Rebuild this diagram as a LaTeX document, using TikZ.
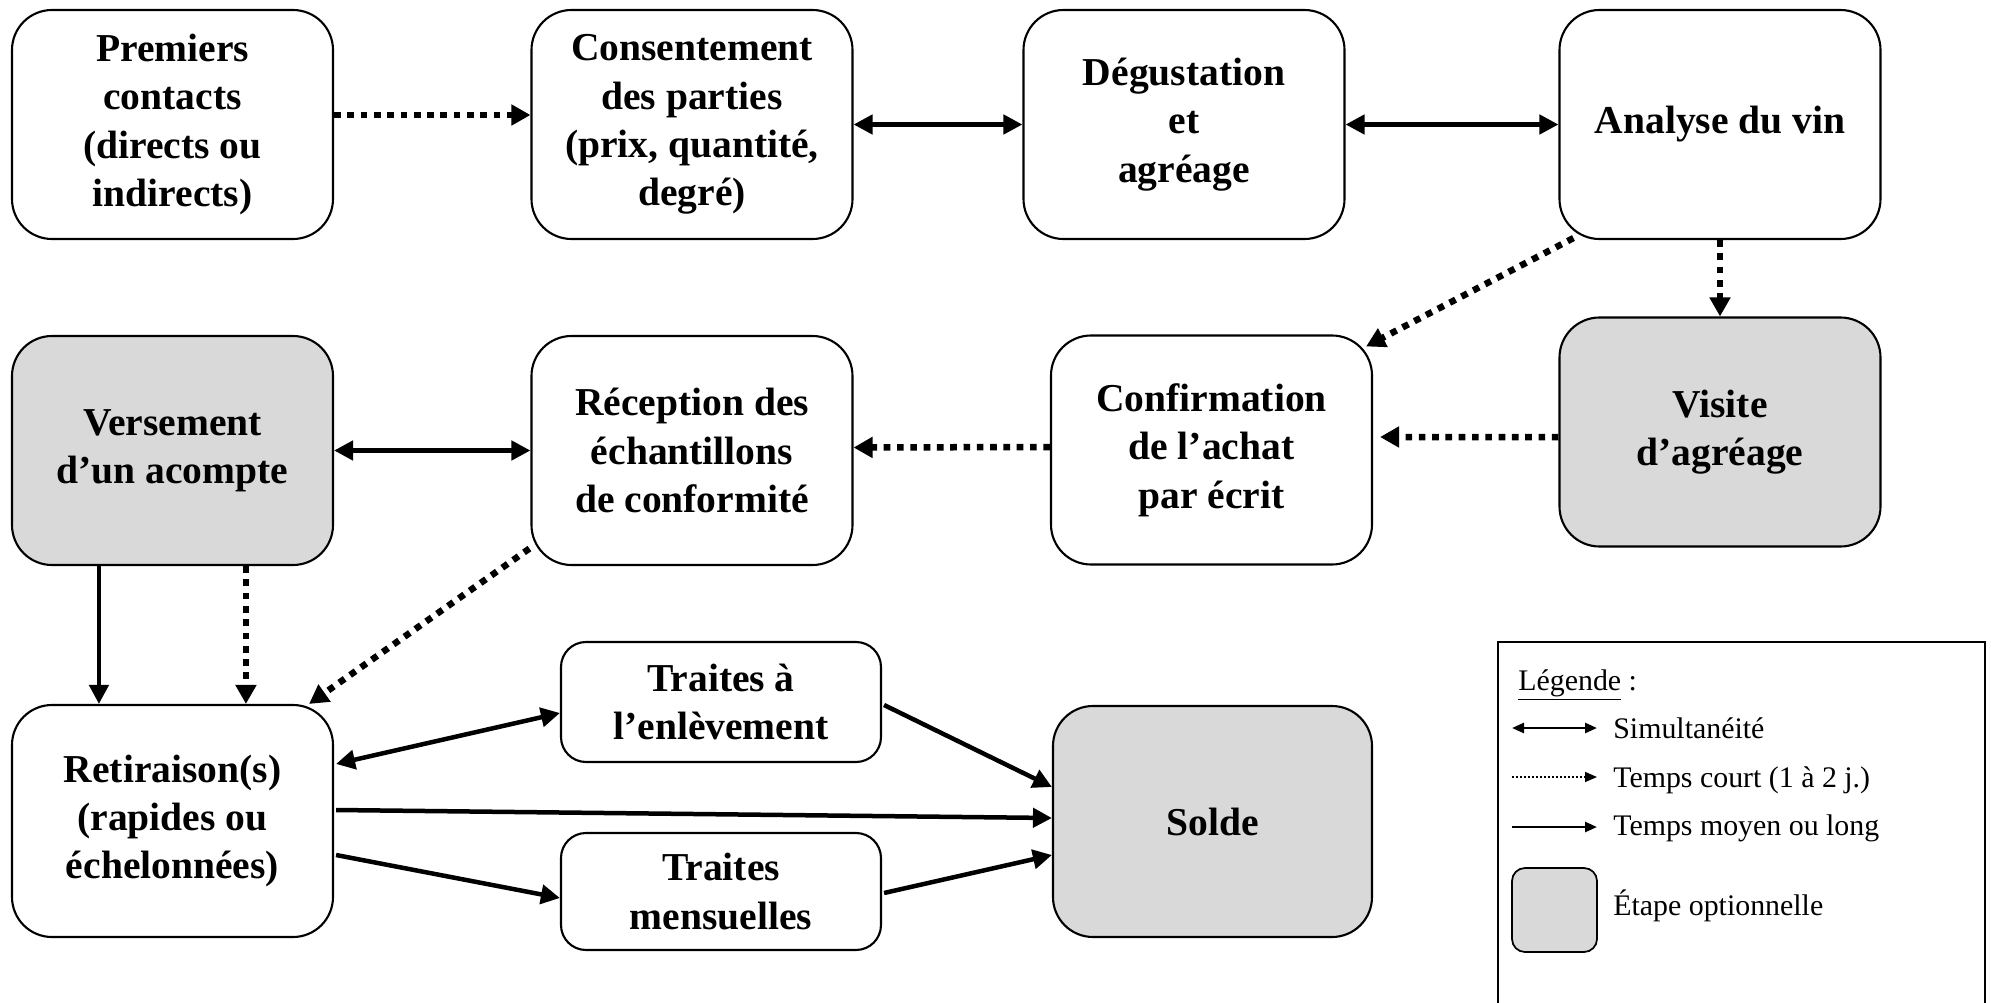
\documentclass[tikz,border=0pt]{standalone}
\usepackage{fontspec}
\setmainfont{Liberation Serif}
\usetikzlibrary{arrows.meta,calc}

\newcommand{\etapefont}{\bfseries\fontsize{22.5}{27.5}\selectfont}
\newcommand{\legendefont}{\fontsize{17}{20}\selectfont}

\begin{document}
\begin{tikzpicture}[
    etape/.style={draw, line width=1.2pt, rounded corners=0.8cm, minimum width=6.42cm,
      minimum height=4.58cm, inner sep=0pt, align=center, font=\etapefont},
    petite/.style={etape, rounded corners=0.5cm, minimum width=6.4cm, minimum height=2.4cm},
    option/.style={fill=black!15},
    simul/.style={{Triangle[length=0.38cm,width=0.38cm]}-{Triangle[length=0.38cm,width=0.38cm]}, line width=0.09cm},
    court/.style={-{Triangle[length=0.38cm,width=0.4cm]}, line width=0.13cm, dash pattern=on 0.133cm off 0.133cm},
    longue/.style={-{Triangle[length=0.38cm,width=0.38cm]}, line width=0.09cm},
    legende/.style={font=\legendefont, inner sep=0pt},
  ]
      \useasboundingbox (0,0) rectangle (39.82,-20.06);

      % Draw the steps
      \node[etape] (prem) at (3.45,-2.49) {Premiers\\contacts\\(directs ou\\indirects)};
      \node[etape] (cons) at (13.84,-2.49) {Consentement\\des parties\\(prix, quantité,\\degré)};
      \node[etape] (degu) at (23.68,-2.49) {Dégustation\\et\\agréage};
      \node[etape] (anal) at (34.40,-2.49) {Analyse du vin};

      \node[etape, option] (vers) at (3.45,-9.01) {Versement\\d’un acompte};
      \node[etape] (rece) at (13.84,-9.01) {Réception des\\échantillons\\de conformité};
      \node[etape] (conf) at (24.23,-9.00) {Confirmation\\de l’achat\\par écrit};
      \node[etape, option] (visi) at (34.40,-8.64) {Visite\\d’agréage};

      \node[etape, minimum height=4.64cm] (reti) at (3.45,-16.42) {Retiraison(s)\\(rapides ou\\échelonnées)};
      \node[petite] (trait) at (14.42,-14.04) {Traites à\\l’enlèvement};
      \node[petite, minimum height=2.34cm] (traim) at (14.42,-17.83) {Traites\\mensuelles};
      \node[etape, option, minimum width=6.38cm, minimum height=4.62cm] (solde) at (24.25,-16.43) {Solde};

      % Draw the links
      \draw[court] ([yshift=0.19cm]prem.east) -- ([yshift=0.19cm]cons.west);
      \draw[simul] (cons.east) -- (degu.west);
      \draw[simul] (degu.east) -- (anal.west);
      \draw[court] ($(anal.south west)+(0.3,0.04)$) -- ($(conf.north east)+(-0.14,-0.24)$);
      \draw[court] (anal.south) -- (visi.north);
      \draw[court, shorten >=0.14cm] ([yshift=-0.1cm]visi.west) -- ([yshift=0.26cm]conf.east);
      \draw[court] ([yshift=0.06cm]conf.west) -- ([yshift=0.06cm]rece.east);
      \draw[simul] (vers.east) -- (rece.west);
      \draw[longue] ($(vers.south west)+(1.76,0)$) -- ($(reti.north west)+(1.76,0)$);
      \draw[court] ($(vers.south west)+(4.7,0)$) -- ($(reti.north west)+(4.7,0)$);
      \draw[court] ($(rece.south west)+(-0.02,0.35)$) -- ($(reti.north east)+(-0.5,0)$);
      \draw[simul] ($(reti.north east)+(0.04,-1.2)$) -- ($(trait.west)+(0,-0.22)$);
      \draw[longue] ($(trait.east)+(0.04,-0.06)$) -- ($(solde.west)+(0,0.69)$);
      \draw[longue] ($(reti.east)+(0.04,0.22)$) -- ($(solde.west)+(0,0.07)$);
      \draw[longue] ($(reti.east)+(0.04,-0.68)$) -- ($(traim.west)+(0,-0.13)$);
      \draw[longue] ($(traim.east)+(0.04,-0.03)$) -- ($(solde.west)+(0,-0.67)$);

      % Draw the legend
      \draw[line width=1pt] (29.96,-20.3) -- (29.96,-12.84) -- (39.7,-12.84) -- (39.7,-20.3);
      \node[legende, anchor=base west] (leg) at (30.36,-13.8) {\underline{Légende} :};
      \draw[{Triangle[length=0.24cm,width=0.2cm]}-{Triangle[length=0.24cm,width=0.2cm]}, line width=0.05cm] (30.24,-14.56) -- (31.94,-14.56);
      \node[legende, anchor=base west] (simu) at (32.26,-14.76) {Simultanéité};
      \draw[-{Triangle[length=0.24cm,width=0.2cm]}, line width=0.03cm, dash pattern=on 0.04cm off 0.04cm] (30.24,-15.54) -- (31.94,-15.54);
      \node[legende, anchor=base west] (tcou) at (32.26,-15.74) {Temps court (1 à 2 j.)};
      \draw[-{Triangle[length=0.24cm,width=0.2cm]}, line width=0.05cm] (30.24,-16.54) -- (31.94,-16.54);
      \node[legende, anchor=base west] (tmoy) at (32.26,-16.70) {Temps moyen ou long};
      \draw[line width=1pt, rounded corners=0.26cm, fill=black!15] (30.24,-17.36) rectangle (31.94,-19.04);
      \node[legende, anchor=base west] (etop) at (32.26,-18.3) {Étape optionnelle};
  \end{tikzpicture}
\end{document}
